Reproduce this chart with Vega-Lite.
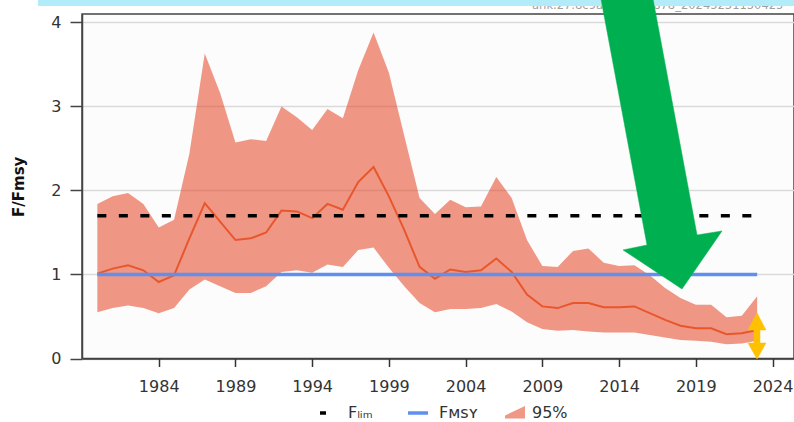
{
  "$schema": "https://vega.github.io/schema/vega-lite/v6.json",
  "width": 712,
  "height": 344.5,
  "autosize": {"type": "none"},
  "padding": {"left": 82, "top": 14, "right": 0, "bottom": 63.5},
  "background": "white",
  "config": {
    "font": "DejaVu Sans",
    "view": {"stroke": "#444", "strokeWidth": 1.5, "fill": "#fcfcfc"},
    "legend": {
      "orient": "none",
      "direction": "horizontal",
      "title": null,
      "symbolSize": 400,
      "symbolStrokeWidth": 3.5,
      "labelFontSize": 16,
      "labelColor": "#333",
      "labelOffset": 9,
      "legendY": 387
    }
  },
  "datasets": {
    "ffmsy": [
      {"year": 1980, "lo": 0.55, "med": 1.01, "hi": 1.84},
      {"year": 1981, "lo": 0.60, "med": 1.07, "hi": 1.93},
      {"year": 1982, "lo": 0.63, "med": 1.11, "hi": 1.97},
      {"year": 1983, "lo": 0.60, "med": 1.05, "hi": 1.84},
      {"year": 1984, "lo": 0.54, "med": 0.91, "hi": 1.56},
      {"year": 1985, "lo": 0.60, "med": 0.99, "hi": 1.65},
      {"year": 1986, "lo": 0.82, "med": 1.43, "hi": 2.44},
      {"year": 1987, "lo": 0.94, "med": 1.85, "hi": 3.63},
      {"year": 1988, "lo": 0.86, "med": 1.63, "hi": 3.16},
      {"year": 1989, "lo": 0.78, "med": 1.41, "hi": 2.57},
      {"year": 1990, "lo": 0.78, "med": 1.43, "hi": 2.61},
      {"year": 1991, "lo": 0.86, "med": 1.50, "hi": 2.59},
      {"year": 1992, "lo": 1.03, "med": 1.76, "hi": 3.00},
      {"year": 1993, "lo": 1.05, "med": 1.75, "hi": 2.87},
      {"year": 1994, "lo": 1.02, "med": 1.67, "hi": 2.72},
      {"year": 1995, "lo": 1.12, "med": 1.84, "hi": 2.97},
      {"year": 1996, "lo": 1.09, "med": 1.77, "hi": 2.86},
      {"year": 1997, "lo": 1.29, "med": 2.10, "hi": 3.43},
      {"year": 1998, "lo": 1.32, "med": 2.28, "hi": 3.88},
      {"year": 1999, "lo": 1.08, "med": 1.93, "hi": 3.40},
      {"year": 2000, "lo": 0.86, "med": 1.53, "hi": 2.65},
      {"year": 2001, "lo": 0.66, "med": 1.09, "hi": 1.91},
      {"year": 2002, "lo": 0.55, "med": 0.95, "hi": 1.72},
      {"year": 2003, "lo": 0.59, "med": 1.06, "hi": 1.89},
      {"year": 2004, "lo": 0.59, "med": 1.03, "hi": 1.80},
      {"year": 2005, "lo": 0.60, "med": 1.05, "hi": 1.81},
      {"year": 2006, "lo": 0.65, "med": 1.19, "hi": 2.16},
      {"year": 2007, "lo": 0.56, "med": 1.03, "hi": 1.91},
      {"year": 2008, "lo": 0.43, "med": 0.76, "hi": 1.41},
      {"year": 2009, "lo": 0.35, "med": 0.62, "hi": 1.10},
      {"year": 2010, "lo": 0.33, "med": 0.60, "hi": 1.09},
      {"year": 2011, "lo": 0.34, "med": 0.66, "hi": 1.28},
      {"year": 2012, "lo": 0.32, "med": 0.66, "hi": 1.31},
      {"year": 2013, "lo": 0.31, "med": 0.61, "hi": 1.14},
      {"year": 2014, "lo": 0.31, "med": 0.61, "hi": 1.10},
      {"year": 2015, "lo": 0.31, "med": 0.62, "hi": 1.11},
      {"year": 2016, "lo": 0.28, "med": 0.54, "hi": 0.99},
      {"year": 2017, "lo": 0.25, "med": 0.46, "hi": 0.84},
      {"year": 2018, "lo": 0.22, "med": 0.39, "hi": 0.72},
      {"year": 2019, "lo": 0.21, "med": 0.36, "hi": 0.64},
      {"year": 2020, "lo": 0.20, "med": 0.36, "hi": 0.64},
      {"year": 2021, "lo": 0.17, "med": 0.29, "hi": 0.49},
      {"year": 2022, "lo": 0.18, "med": 0.30, "hi": 0.51},
      {"year": 2023, "lo": 0.21, "med": 0.34, "hi": 0.74}
    ],
    "green_arrow": [
      {"i": 1, "x": 2012.76, "y": 4.34},
      {"i": 2, "x": 2016.15, "y": 4.34},
      {"i": 3, "x": 2019.08, "y": 1.47},
      {"i": 4, "x": 2020.71, "y": 1.518},
      {"i": 5, "x": 2018.10, "y": 0.827},
      {"i": 6, "x": 2014.26, "y": 1.292},
      {"i": 7, "x": 2015.82, "y": 1.351}
    ],
    "yellow_arrow": [
      {"i": 1, "x": 2022.99, "y": 0.542},
      {"i": 2, "x": 2023.575, "y": 0.339},
      {"i": 3, "x": 2023.184, "y": 0.339},
      {"i": 4, "x": 2023.184, "y": 0.185},
      {"i": 5, "x": 2023.575, "y": 0.185},
      {"i": 6, "x": 2022.99, "y": -0.006},
      {"i": 7, "x": 2022.402, "y": 0.185},
      {"i": 8, "x": 2022.793, "y": 0.185},
      {"i": 9, "x": 2022.793, "y": 0.339},
      {"i": 10, "x": 2022.402, "y": 0.339}
    ]
  },
  "layer": [
    {
      "data": {"name": "ffmsy"},
      "mark": {"type": "area", "opacity": 0.56},
      "encoding": {
        "x": {
          "field": "year",
          "type": "quantitative",
          "scale": {"domain": [1979, 2025.4], "nice": false, "zero": false},
          "axis": {
            "values": [1984, 1989, 1994, 1999, 2004, 2009, 2014, 2019, 2024],
            "format": "d",
            "grid": false,
            "title": null,
            "domainColor": "#333",
            "domainWidth": 1.5,
            "tickColor": "#333",
            "tickWidth": 1.5,
            "tickSize": 8,
            "labelFontSize": 16,
            "labelColor": "#333",
            "labelPadding": 12
          }
        },
        "y": {
          "field": "lo",
          "type": "quantitative",
          "scale": {"domain": [0, 4.1], "nice": false},
          "axis": {
            "values": [0, 1, 2, 3, 4],
            "format": "d",
            "grid": true,
            "gridColor": "#dadada",
            "gridWidth": 1.5,
            "title": "F/Fmsy",
            "titleFontSize": 15,
            "titleFontWeight": "bold",
            "titleColor": "#111",
            "titlePadding": 24,
            "domainColor": "#444",
            "domainWidth": 1.5,
            "tickColor": "#444",
            "tickWidth": 1.5,
            "tickSize": 12,
            "labelFontSize": 16,
            "labelColor": "#333",
            "labelPadding": 9
          }
        },
        "y2": {"field": "hi"},
        "fill": {
          "datum": "95%",
          "type": "nominal",
          "scale": {"range": ["#e64628"]},
          "legend": {
            "legendX": 421,
            "labelOffset": 5,
            "symbolType": "M-1,0.55L-1,0.25L1,-0.7L1,0.55Z"
          }
        }
      }
    },
    {
      "data": {"name": "ffmsy"},
      "mark": {"type": "line", "color": "#e8572c", "strokeWidth": 2},
      "encoding": {
        "x": {"field": "year", "type": "quantitative"},
        "y": {"field": "med", "type": "quantitative"}
      }
    },
    {
      "data": {"values": [{}]},
      "mark": {"type": "rule", "strokeWidth": 3.5, "strokeDash": [9, 12.5]},
      "encoding": {
        "x": {"datum": 1980, "type": "quantitative"},
        "x2": {"datum": 2023},
        "y": {"datum": 1.7, "type": "quantitative"},
        "color": {
          "datum": "Fₗᵢₘ",
          "type": "nominal",
          "scale": {"range": ["#000000"]},
          "legend": {
            "legendX": 233,
            "symbolType": "M-0.7,0L-0.1,0",
            "symbolDash": [],
            "symbolStrokeColor": "#000000"
          }
        }
      }
    },
    {
      "data": {"values": [{}]},
      "mark": {"type": "rule", "strokeWidth": 3.5},
      "encoding": {
        "x": {"datum": 1980, "type": "quantitative"},
        "x2": {"datum": 2023},
        "y": {"datum": 1, "type": "quantitative"},
        "stroke": {
          "datum": "Fᴍꜱʏ",
          "type": "nominal",
          "scale": {"range": ["#5f90f0"]},
          "legend": {
            "legendX": 324,
            "symbolType": "stroke"
          }
        }
      }
    },
    {
      "data": {"values": [{}]},
      "mark": {"type": "text", "align": "left", "baseline": "alphabetic", "fontSize": 11.5, "color": "#a0a0a0"},
      "encoding": {
        "x": {"datum": 2008.33, "type": "quantitative"},
        "y": {"datum": 4.155, "type": "quantitative"},
        "text": {"value": "ank.27.8c9a_SAG_18878_20245231130425"}
      }
    },
    {
      "data": {"values": [{}]},
      "mark": {"type": "rect", "color": "#b3ecf9"},
      "encoding": {
        "x": {"datum": 1976.13, "type": "quantitative"},
        "x2": {"datum": 2026},
        "y": {"datum": 4.3, "type": "quantitative"},
        "y2": {"datum": 4.195}
      }
    },
    {
      "data": {"name": "green_arrow"},
      "mark": {"type": "line", "interpolate": "linear-closed", "fill": "#00b050", "stroke": "#00b050", "strokeWidth": 0.5},
      "encoding": {
        "x": {"field": "x", "type": "quantitative"},
        "y": {"field": "y", "type": "quantitative"},
        "order": {"field": "i"}
      }
    },
    {
      "data": {"name": "yellow_arrow"},
      "mark": {"type": "line", "interpolate": "linear-closed", "fill": "#ffc000", "stroke": "#ffc000", "strokeWidth": 0.5},
      "encoding": {
        "x": {"field": "x", "type": "quantitative"},
        "y": {"field": "y", "type": "quantitative"},
        "order": {"field": "i"}
      }
    }
  ]
}
